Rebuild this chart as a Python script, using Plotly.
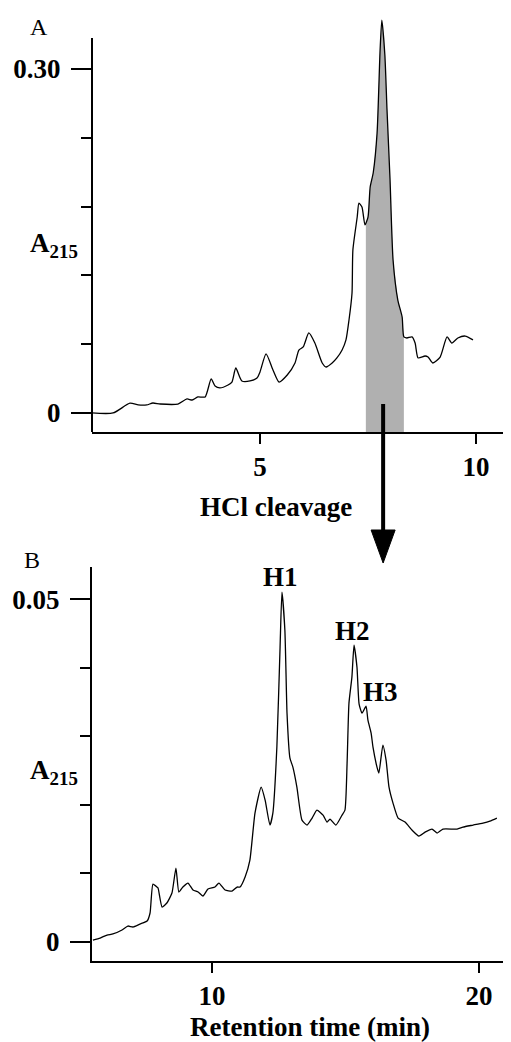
import numpy as np
import plotly.graph_objects as go

# ---------------- Data ----------------
# Panel A: first HPLC run (retention time in min, A215)
time_a = [1.11, 1.60, 1.99, 2.18, 2.38, 2.52, 2.69, 3.10, 3.31, 3.43, 3.56, 3.73,
          3.87, 3.96, 4.07, 4.26, 4.35, 4.44, 4.58, 4.77, 4.93, 5.00, 5.14, 5.30,
          5.44, 5.63, 5.81, 5.90, 6.00, 6.13, 6.27, 6.44, 6.53, 6.67, 6.78, 6.90,
          6.99, 7.06, 7.13, 7.15, 7.25, 7.29, 7.36, 7.43, 7.50, 7.55, 7.62, 7.71,
          7.78, 7.82, 7.89, 7.94, 8.01, 8.08, 8.19, 8.29, 8.33, 8.40, 8.52, 8.59,
          8.66, 8.82, 8.89, 9.00, 9.17, 9.33, 9.44, 9.58, 9.75, 9.93]
abs_a = [0.0, 0.0, 0.0085, 0.0070, 0.0070, 0.0087, 0.0078, 0.0078, 0.0122, 0.0113,
         0.0140, 0.0140, 0.0297, 0.0235, 0.0218, 0.0244, 0.0270, 0.0392, 0.0279,
         0.0279, 0.0305, 0.0358, 0.0515, 0.0375, 0.0270, 0.0331, 0.0436, 0.0549,
         0.0576, 0.0698, 0.0610, 0.0436, 0.0401, 0.0436, 0.0480, 0.0549, 0.0637,
         0.0811, 0.1047, 0.1421, 0.1709, 0.1831, 0.1796, 0.1640, 0.1709, 0.1971,
         0.2093, 0.2442, 0.3166, 0.3427, 0.3122, 0.2642, 0.2033, 0.1334, 0.0985,
         0.0837, 0.0663, 0.0654, 0.0663, 0.0610, 0.0480, 0.0497, 0.0488, 0.0436,
         0.0488, 0.0663, 0.0610, 0.0654, 0.0671, 0.0637]

# Collected fraction (shaded) in panel A
fraction_start = 7.45
fraction_end = 8.33

# Panel B: rechromatography after HCl cleavage
time_b = [5.54, 5.81, 6.07, 6.29, 6.63, 6.85, 7.04, 7.30, 7.57, 7.68, 7.79, 7.94,
          7.98, 8.13, 8.31, 8.50, 8.65, 8.76, 8.91, 9.10, 9.29, 9.48, 9.66, 9.85,
          10.11, 10.26, 10.49, 10.75, 10.94, 11.05, 11.24, 11.42, 11.61, 11.84,
          11.99, 12.17, 12.28, 12.43, 12.55, 12.62, 12.73, 12.81, 12.92, 13.03,
          13.18, 13.37, 13.56, 13.75, 13.93, 14.16, 14.31, 14.42, 14.64, 14.87,
          14.98, 15.06, 15.13, 15.24, 15.32, 15.43, 15.51, 15.62, 15.77, 15.84,
          15.96, 16.03, 16.18, 16.25, 16.40, 16.52, 16.63, 16.78, 16.97, 17.23,
          17.49, 17.75, 17.98, 18.24, 18.43, 18.65, 19.18, 19.40, 19.78, 20.15,
          20.41, 20.67]
abs_b = [0.00029, 0.00058, 0.00102, 0.00117, 0.00175, 0.00233, 0.00219, 0.00262,
         0.00306, 0.00423, 0.00845, 0.00802, 0.00787, 0.00510, 0.00569, 0.00714,
         0.01079, 0.00729, 0.00802, 0.00860, 0.00758, 0.00729, 0.00671, 0.00773,
         0.00802, 0.00860, 0.00758, 0.00743, 0.00802, 0.00802, 0.00948, 0.01195,
         0.01880, 0.02259, 0.02070, 0.01706, 0.01880, 0.02843, 0.04300, 0.05102,
         0.04548, 0.03338, 0.02682, 0.02551, 0.02259, 0.01778, 0.01706, 0.01808,
         0.01924, 0.01851, 0.01749, 0.01793, 0.01706, 0.01851, 0.01924, 0.02609,
         0.03484, 0.03863, 0.04329, 0.04009, 0.03470, 0.03338, 0.03440, 0.03236,
         0.03047, 0.02843, 0.02551, 0.02464, 0.02872, 0.02653, 0.02259, 0.02026,
         0.01808, 0.01749, 0.01633, 0.01545, 0.01603, 0.01647, 0.01589, 0.01647,
         0.01647, 0.01676, 0.01706, 0.01735, 0.01764, 0.01808]

peak_labels = ["H1", "H2", "H3"]
peak_times = [12.58, 15.26, 16.30]
peak_label_y = [0.0532, 0.0453, 0.0364]

tick_a_x = [5, 10]
tick_a_y = [0, 0.30]
tick_a_y_text = ["0", "0.30"]
tick_b_x = [10, 20]
tick_b_y = [0, 0.05]
tick_b_y_text = ["0", "0.05"]

# ---------------- Styling ----------------
FONT = "Liberation Serif"
FS = 27
BLACK = "black"

xa_range = [1.111, 10.81]
ya_range = [-0.0166, 0.3471]
ya_axis_top = 0.327
xb_range = [5.506, 21.199]
yb_range = [-0.00277, 0.0547]

fig = go.Figure()

# shaded fraction polygon built from the curve
ta = np.array(time_a)
aa = np.array(abs_a)
inside = (ta > fraction_start) & (ta < fraction_end)
poly_x = ([fraction_start, fraction_start] + list(ta[inside]) +
          [fraction_end, fraction_end])
poly_y = ([ya_range[0], float(np.interp(fraction_start, ta, aa))] + list(aa[inside]) +
          [float(np.interp(fraction_end, ta, aa)), ya_range[0]])
fig.add_trace(go.Scatter(x=poly_x, y=poly_y, fill="toself", fillcolor="#b0b0b0",
                         line=dict(width=0), mode="lines", hoverinfo="skip",
                         xaxis="x", yaxis="y", showlegend=False))

fig.add_trace(go.Scatter(x=time_a, y=abs_a, mode="lines",
                         line=dict(color=BLACK, width=1.3, shape="spline", smoothing=0.6),
                         xaxis="x", yaxis="y", showlegend=False))
fig.add_trace(go.Scatter(x=time_b, y=abs_b, mode="lines",
                         line=dict(color=BLACK, width=1.3, shape="spline", smoothing=0.5),
                         xaxis="x2", yaxis="y2", showlegend=False))

tickfont = dict(family=FONT, size=FS, color=BLACK, weight="bold")
common_x = dict(showgrid=False, zeroline=False, showline=True, linewidth=2,
                linecolor=BLACK, ticks="outside", ticklen=10, tickwidth=2,
                tickcolor=BLACK, tickfont=tickfont, fixedrange=True)
common_y = dict(showgrid=False, zeroline=False, ticks="outside", ticklen=20,
                tickwidth=2, tickcolor=BLACK, tickfont=tickfont,
                ticklabelstandoff=5, fixedrange=True)

# page body has an 8px default margin; figure is sized to fill 511x1042 exactly
fig.update_layout(
    width=503, height=1034,
    margin=dict(l=84, r=0, t=7, b=81),
    paper_bgcolor="white", plot_bgcolor="white",
    showlegend=False,
    xaxis=dict(domain=[0, 1], anchor="y", range=xa_range,
               tickmode="array", tickvals=tick_a_x, **common_x),
    yaxis=dict(domain=[0.5592, 1], anchor="x", range=ya_range, showline=False,
               tickmode="array", tickvals=tick_a_y, ticktext=tick_a_y_text,
               minor=dict(tickmode="linear", tick0=0, dtick=0.06, ticks="outside",
                          ticklen=10, tickwidth=2, tickcolor=BLACK, showgrid=False),
               **common_y),
    xaxis2=dict(domain=[0, 1], anchor="y2", range=xb_range,
                tickmode="array", tickvals=tick_b_x, **common_x),
    yaxis2=dict(domain=[0, 0.4165], anchor="x2", range=yb_range, showline=True,
                linewidth=2, linecolor=BLACK,
                tickmode="array", tickvals=tick_b_y, ticktext=tick_b_y_text,
                minor=dict(tickmode="linear", tick0=0, dtick=0.01, ticks="outside",
                           ticklen=10, tickwidth=2, tickcolor=BLACK, showgrid=False),
                **common_y),
)

# y-axis line of panel A (stops below the peak top)
fig.add_shape(type="line", xref="x domain", yref="y", x0=0, x1=0,
              y0=ya_range[0], y1=ya_axis_top, line=dict(color=BLACK, width=2))

# arrow from collected fraction down to panel B
arrow_x = (fraction_start + fraction_end) / 2 - 0.04
half_w = 0.278
fig.add_shape(type="line", xref="x", yref="paper", x0=arrow_x, x1=arrow_x,
              y0=0.5888, y1=0.452, line=dict(color=BLACK, width=4))
fig.add_shape(type="path", xref="x", yref="paper",
              path=f"M {arrow_x - half_w},0.4556 L {arrow_x + half_w},0.4556 L {arrow_x},0.4207 Z",
              fillcolor=BLACK, line=dict(color=BLACK, width=1))

bold = dict(family=FONT, size=FS, color=BLACK, weight="bold")
annots = []
# panel letters
annots.append(dict(text="A", xref="x domain", yref="y domain", x=-0.1265, y=0.971,
                   xanchor="center", yanchor="middle", showarrow=False,
                   font=dict(family=FONT, size=24, color=BLACK)))
annots.append(dict(text="B", xref="x2 domain", yref="y2 domain", x=-0.143, y=1.018,
                   xanchor="center", yanchor="middle", showarrow=False,
                   font=dict(family=FONT, size=24, color=BLACK)))
# A215 labels
annots.append(dict(text="A<sub>215</sub>", xref="x domain", yref="y", x=-0.028, y=0.1465,
                   xanchor="right", yanchor="middle", showarrow=False, font=bold))
annots.append(dict(text="A<sub>215</sub>", xref="x2 domain", yref="y2", x=-0.028, y=0.0248,
                   xanchor="right", yanchor="middle", showarrow=False, font=bold))
# axis titles
annots.append(dict(text="HCl cleavage", xref="paper", yref="paper", x=0.439, y=0.4799,
                   xanchor="center", yanchor="middle", showarrow=False, font=bold))
annots.append(dict(text="Retention time (min)", xref="paper", yref="paper", x=0.520,
                   y=-0.0695, xanchor="center", yanchor="middle", showarrow=False,
                   font=bold))
# peak labels
for lab, px_, py_ in zip(peak_labels, peak_times, peak_label_y):
    annots.append(dict(text=lab, xref="x2", yref="y2", x=px_, y=py_, showarrow=False,
                       xanchor="center", yanchor="middle", font=bold))
fig.update_layout(annotations=annots)

fig.write_html("out.html")
